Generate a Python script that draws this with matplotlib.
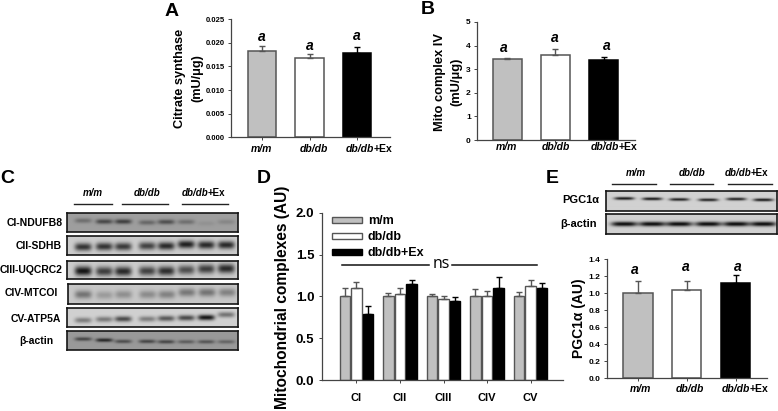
import numpy as np
import matplotlib
matplotlib.use('Agg')
import matplotlib.pyplot as plt

W, H = 778, 411
plt.rcParams['font.family'] = ['Liberation Sans', 'DejaVu Sans']
plt.rcParams['font.weight'] = 'bold'

groups = ['m/m', 'db/db', 'db/db+Ex']
fills = ['#c0c0c0', '#ffffff', '#000000']
edges = ['#555555', '#555555', '#000000']

cs_vals = [0.0183, 0.0168, 0.0179]
cs_errs = [0.0011, 0.0009, 0.0011]
cs_ticks = [0.000, 0.005, 0.010, 0.015, 0.020, 0.025]

cx4_vals = [3.42, 3.60, 3.37]
cx4_errs = [0.04, 0.26, 0.15]
cx4_ticks = [0, 1, 2, 3, 4, 5]

complexes = ['CI', 'CII', 'CIII', 'CIV', 'CV']
mm_vals = [1.00, 1.00, 1.00, 1.00, 1.00]
mm_errs = [0.10, 0.04, 0.03, 0.09, 0.05]
db_vals = [1.10, 1.03, 0.97, 1.01, 1.12]
db_errs = [0.07, 0.07, 0.04, 0.05, 0.07]
ex_vals = [0.79, 1.15, 0.95, 1.10, 1.10]
ex_errs = [0.10, 0.04, 0.04, 0.13, 0.06]
d_ticks = [0.0, 0.5, 1.0, 1.5, 2.0]

pgc_vals = [1.00, 1.04, 1.12]
pgc_errs = [0.14, 0.11, 0.09]
pgc_ticks = [0.0, 0.2, 0.4, 0.6, 0.8, 1.0, 1.2, 1.4]

# western blots: band strength per lane, 0 = nothing, 1 = black
ndufb8 = [0.30, 0.55, 0.60, 0.35, 0.50, 0.30, 0.08, 0.15]
sdhb = [0.75, 0.75, 0.72, 0.68, 0.80, 0.85, 0.80, 0.80]
uqcrc2 = [0.90, 0.70, 0.80, 0.68, 0.78, 0.62, 0.70, 0.80]
mtcoi = [0.42, 0.22, 0.28, 0.30, 0.35, 0.40, 0.42, 0.35]
atp5a = [0.40, 0.42, 0.65, 0.40, 0.58, 0.65, 0.90, 0.45]
actin_c = [0.55, 0.75, 0.50, 0.55, 0.55, 0.40, 0.45, 0.35]
pgc_bands = [0.9, 0.9, 0.85, 0.85, 0.85, 0.9]
actin_e = [0.95, 0.95, 0.95, 0.95, 0.95, 0.95]

c_lanes = [83, 104, 123, 147, 166, 186, 206, 226]
e_lanes = [624, 652, 679, 708, 736, 763]


def px_axes(l, t, r, b):
    return fig.add_axes([l / W, 1 - b / H, (r - l) / W, (b - t) / H])


def px_text(x, y, s, **kw):
    kw.setdefault('ha', 'center')
    kw.setdefault('va', 'center')
    return fig.text(x / W, 1 - y / H, s, **kw)


def group_label(x, y, name, size=7.5):
    # italic genotype, upright "+Ex"
    if name.endswith('+Ex'):
        px_text(x + 9, y, name[:-3], ha='right', style='italic', fontsize=size)
        px_text(x + 9, y, '+Ex', ha='left', fontsize=size)
    else:
        px_text(x, y, name, style='italic', fontsize=size)


def bar_panel(box, xlim, vals, errs, ticks, fmt, tick_size):
    ax = px_axes(*box)
    x = np.arange(len(vals))
    ax.bar(x, vals, 0.6, color=fills, edgecolor=edges, linewidth=1.1)
    for i in x:
        ax.errorbar(i, vals[i], yerr=[[0], [errs[i]]], color=edges[i],
                    capsize=2, elinewidth=1, capthick=1)
    ax.set_xlim(*xlim)
    ax.set_ylim(ticks[0], ticks[-1])
    ax.set_xticks(x)
    ax.set_xticklabels([])
    ax.set_yticks(ticks)
    ax.set_yticklabels([fmt % t for t in ticks], fontsize=tick_size)
    for s in ['top', 'right']:
        ax.spines[s].set_visible(False)
    for s in ['left', 'bottom']:
        ax.spines[s].set_color('#444444')
        ax.spines[s].set_linewidth(0.9)
    ax.tick_params(length=2.5, width=0.7, pad=2, color='#444444')
    return ax


def blot(box, lanes, strength, bg, y_frac, thick, spread):
    l, t, r, b = box
    ax = px_axes(l, t, r, b)
    xx, yy = np.meshgrid(np.arange(l, r, 0.5), np.linspace(0, 1, 2 * (b - t)))
    img = np.full(xx.shape, bg, dtype=float)
    for lx, s, yf in zip(lanes, strength, y_frac):
        band = np.exp(-((xx - lx) / spread) ** 4 - ((yy - yf) / thick) ** 2)
        img -= s * bg * band
    ax.imshow(img, cmap='gray', vmin=0, vmax=1, aspect='auto',
              extent=[l, r, 1, 0], interpolation='bilinear')
    ax.set_xticks([])
    ax.set_yticks([])
    for s in ax.spines.values():
        s.set_linewidth(1.2)
        s.set_color('#151515')
    return ax


fig = plt.figure(figsize=(W / 100, H / 100), dpi=100)

# panel letters
for x, y, s in [(172, 11, 'A'), (428, 10, 'B'), (7, 178, 'C'), (264, 178, 'D'), (552, 178, 'E')]:
    px_text(x, y, s, fontsize=14)

# A
bar_panel((231, 19, 390, 137.5), (-0.653, 2.695), cs_vals, cs_errs, cs_ticks, '%.3f', 5.5)
px_text(180, 78, 'Citrate synthase', rotation=90, fontsize=9.2)
px_text(197, 78, '(mU/\u03bcg)', rotation=90, fontsize=9.2)
for x, y, g in zip([262, 314, 365], [149, 149, 149], groups):
    group_label(x, y, g)
for x, y in zip([262, 310, 357], [37, 46, 36]):
    px_text(x, y, 'a', style='italic', fontsize=10)

# B
bar_panel((477, 22, 635, 140), (-0.635, 2.656), cx4_vals, cx4_errs, cx4_ticks, '%d', 6)
px_text(440, 82, 'Mito complex IV', rotation=90, fontsize=9.3)
px_text(456, 82, '(mU/\u03bcg)', rotation=90, fontsize=9.3)
for x, y, g in zip([507, 556, 610], [147, 147, 147], groups):
    group_label(x, y, g)
for x, y in zip([504, 555, 607], [48, 38, 46]):
    px_text(x, y, 'a', style='italic', fontsize=10)

# C
c_rows = [
    ((67, 213, 238, 232), ndufb8, 0.62, [0.4, 0.45, 0.45, 0.5, 0.47, 0.47, 0.55, 0.47], 0.13),
    ((67, 236, 238, 255), sdhb, 0.80, [0.6, 0.58, 0.58, 0.55, 0.55, 0.47, 0.5, 0.5], 0.2),
    ((67, 261, 238, 279), uqcrc2, 0.80, [0.58, 0.6, 0.6, 0.58, 0.58, 0.52, 0.47, 0.45], 0.25),
    ((68, 284, 238, 304), mtcoi, 0.78, [0.55, 0.58, 0.55, 0.55, 0.55, 0.45, 0.45, 0.45], 0.2),
    ((67, 308, 238, 327), atp5a, 0.82, [0.65, 0.6, 0.58, 0.58, 0.55, 0.52, 0.5, 0.35], 0.15),
    ((67, 331, 238, 350), actin_c, 0.60, [0.42, 0.48, 0.55, 0.55, 0.57, 0.57, 0.57, 0.57], 0.1),
]
for box, vals, bg, yf, th in c_rows:
    blot(box, c_lanes, vals, bg, yf, th, 8.5)
c_labels = ['CI-NDUFB8', 'CII-SDHB', 'CIII-UQCRC2', 'CIV-MTCOI', 'CV-ATP5A', '\u03b2-actin']
for x, y, s in zip([63, 62, 63, 58, 61, 53], [223, 246, 270, 293, 319, 341], c_labels):
    px_text(x, y, s, ha='right', fontsize=7.5)
for x, g in zip([93, 147, 199], groups):
    group_label(x, 193, g, size=7)
for x0, x1 in [(74, 112), (122, 168), (182, 228)]:
    fig.add_artist(plt.Line2D([x0 / W, x1 / W], [1 - 204 / H] * 2, color='#222222', lw=1))

# D
ax = px_axes(322, 212.7, 563, 380)
x = np.arange(len(complexes))
off = 0.265
for k, (vals, errs) in enumerate([(mm_vals, mm_errs), (db_vals, db_errs), (ex_vals, ex_errs)]):
    pos = x + (k - 1) * off
    ax.bar(pos, vals, 0.235, color=fills[k], edgecolor=edges[k], linewidth=1,
           label=groups[k])
    ax.errorbar(pos, vals, yerr=[np.zeros(len(vals)), errs], fmt='none', ecolor=edges[k],
                capsize=2.2, elinewidth=1, capthick=1)
ax.set_xlim(-0.793, 4.747)
ax.set_ylim(0, 2)
ax.set_xticks(x)
ax.set_xticklabels(complexes, fontsize=8)
ax.set_yticks(d_ticks)
ax.set_yticklabels(['%.1f' % t for t in d_ticks], fontsize=9.5)
for s in ['top', 'right']:
    ax.spines[s].set_visible(False)
for s in ['left', 'bottom']:
    ax.spines[s].set_color('#444444')
    ax.spines[s].set_linewidth(0.9)
ax.tick_params(length=2.5, width=0.7, color='#444444')
ax.tick_params(axis='x', pad=7)
ax.tick_params(axis='y', pad=3)
ax.legend(loc='upper left', bbox_to_anchor=(0.042, 0.985), frameon=False, fontsize=9,
          handlelength=2.4, handleheight=0.35, labelspacing=0.32, handletextpad=0.45,
          borderpad=0, borderaxespad=0)
ax.plot([-0.33, 1.67], [1.375, 1.375], color='#111111', lw=1.1)
ax.plot([2.19, 4.14], [1.375, 1.375], color='#111111', lw=1.1)
ax.text(1.96, 1.39, 'ns', ha='center', va='center', fontsize=11.5, fontweight='normal',
        family='Open Sans')
px_text(283, 297, 'Mitochondrial complexes (AU)', rotation=90, fontsize=11.2)

# E
blot((606, 191, 777, 211), e_lanes, pgc_bands, 0.82, [0.4, 0.42, 0.45, 0.47, 0.43, 0.47], 0.07, 10)
blot((606, 214, 777, 234), e_lanes, actin_e, 0.82, [0.5] * 6, 0.12, 13)
px_text(599, 200, 'PGC1\u03b1', ha='right', fontsize=8)
px_text(597, 224, '\u03b2-actin', ha='right', fontsize=8)
for x, g in zip([636, 692, 742], groups):
    group_label(x, 173, g, size=7)
for x0, x1 in [(612, 656), (670, 713), (728, 772)]:
    fig.add_artist(plt.Line2D([x0 / W, x1 / W], [1 - 184 / H] * 2, color='#222222', lw=1))

bar_panel((607, 259.4, 767, 378), (-0.636, 2.646), pgc_vals, pgc_errs, pgc_ticks, '%.1f', 6)
px_text(579, 318, 'PGC1\u03b1 (AU)', rotation=90, fontsize=10)
for x, g in zip([641, 690, 741], groups):
    group_label(x, 389, g)
for x, y in zip([635, 686, 738], [270, 267, 267]):
    px_text(x, y, 'a', style='italic', fontsize=10)

fig.savefig('out.png', dpi=100)
